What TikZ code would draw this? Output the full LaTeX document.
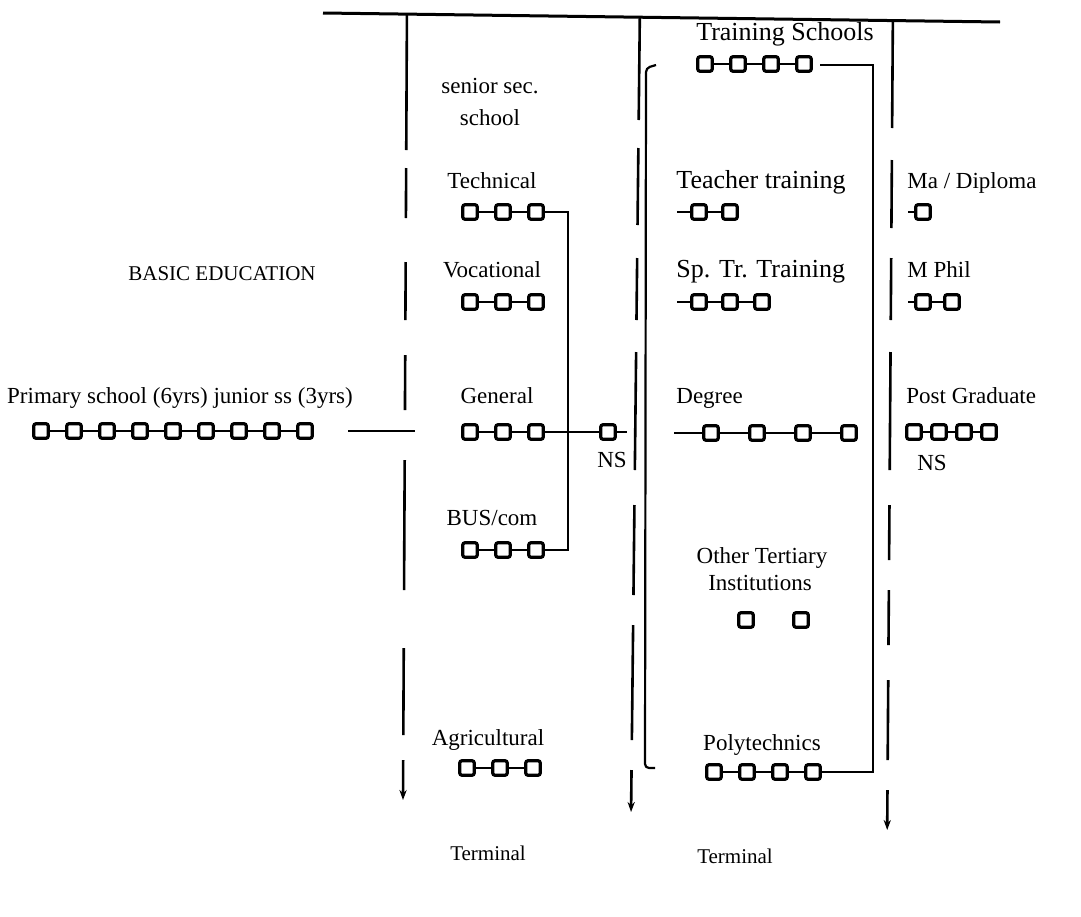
\documentclass[tikz,border=0pt]{standalone}
\usepackage{fontspec}
\setmainfont{Liberation Serif}
\usetikzlibrary{arrows.meta}
\begin{document}
\begin{tikzpicture}[x=0.5pt,y=-0.5pt,
  bx/.style={draw,line width=1.6pt,rounded corners=1.2pt,minimum size=7.3pt,inner sep=0pt},
  lk/.style={line width=0.8pt},
  lk2/.style={line width=1pt},
  rail/.style={line width=1.3pt},
  frame/.style={line width=1.1pt},
  lbl/.style={font=\fontsize{11.5}{14}\selectfont,inner sep=0pt,text height=8pt,text depth=2.5pt},
  big/.style={font=\fontsize{13}{15}\selectfont},
  sml/.style={font=\fontsize{10.5}{13}\selectfont},
  arr/.style={rail,-{Stealth[length=5pt,width=3.6pt]}}
]
\useasboundingbox (0,0) rectangle (1081,916);
% top rule
\coordinate (topL) at (323,13);
\coordinate (topR) at (1000,22);
\draw[line width=1.5pt] (topL) -- (topR);

% rails (dashed vertical dividers)
\foreach \a/\b in {14/150,168/218,262/320,355/410,460/590,648/735}
  \draw[rail] ({407-0.005*\a},\a) -- ({407-0.005*\b},\b);
\draw[arr] ({407-0.005*760},760) -- ({407-0.005*800},800);
\foreach \a/\b in {17/120,148/225,258/320,352/470,505/595,625/740}
  \draw[rail] ({640-0.011*\a},\a) -- ({640-0.011*\b},\b);
\draw[arr] ({640-0.011*770},770) -- ({640-0.011*812},812);
\foreach \a/\b in {20/128,160/228,258/320,352/470,505/560,590/645,680/760}
  \draw[rail] ({893-0.007*\a},\a) -- ({893-0.007*\b},\b);
\draw[arr] ({893-0.007*790},790) -- ({893-0.007*830},830);

% basic education
\node[lbl,sml] (basic) at (222,275) {BASIC EDUCATION};
\node[lbl] (prim) at (180,398) {Primary school (6yrs) junior ss (3yrs)};
\foreach \i in {0,...,8} \node[bx] (pr\i) at ({41+33*\i},431) {};
\foreach \i in {0,...,7}{\pgfmathtruncatemacro\j{\i+1}\draw[lk] (pr\i) -- (pr\j);}
\coordinate (hl1) at (348,431);
\coordinate (hl2) at (415,431);
\draw[lk2] (hl1) -- (hl2);

% senior secondary column
\node[lbl] (ss1) at (490,88) {senior sec.};
\node[lbl] (ss2) at (490,120) {school};
\node[lbl] (tech) at (492,183) {Technical};
\node[lbl] (voc) at (492,272) {Vocational};
\node[lbl] (gen) at (497,398) {General};
\node[lbl] (bus) at (492,520) {BUS/com};
\node[lbl] (agr) at (488,740) {Agricultural};
\node[lbl,sml] (term1) at (488,855) {Terminal};
\foreach \r/\yy in {te/212,vo/302,ge/432,bu/550}{
  \foreach \i/\xx in {1/470,2/503,3/536} \node[bx] (\r\i) at (\xx,\yy) {};
  \draw[lk] (\r1) -- (\r2) (\r2) -- (\r3);
}
\foreach \i/\xx in {1/467,2/500,3/533} \node[bx] (ag\i) at (\xx,768) {};
\draw[lk] (ag1) -- (ag2) (ag2) -- (ag3);
\coordinate (jt) at (568,212);
\coordinate (jb) at (568,550);
\draw[lk2] (te3) -- (jt) -- (jb) -- (bu3);
\node[bx] (ns) at (608,432) {};
\coordinate (nsT) at (627,432);
\draw[lk2] (ge3) -- (ns);
\draw[lk] (ns) -- (nsT);
\node[lbl] (nsl) at (612,462) {NS};

% tertiary column
\node[lbl,big] (trs) at (785,35) {Training Schools};
\foreach \i/\xx in {1/705,2/738,3/771,4/804} \node[bx] (ts\i) at (\xx,64) {};
\draw[lk] (ts1) -- (ts2) (ts2) -- (ts3) (ts3) -- (ts4);
\node[lbl] (pol) at (762,745) {Polytechnics};
\foreach \i/\xx in {1/714,2/747,3/780,4/813} \node[bx] (po\i) at (\xx,772) {};
\draw[lk] (po1) -- (po2) (po2) -- (po3) (po3) -- (po4);
\coordinate (fs) at (820,65);
\coordinate (fc1) at (873,65);
\coordinate (fc2) at (873,772);
\draw[frame] (fs) -- (fc1) -- (fc2) -- (po4);
\coordinate (bk1) at (656,65);
\coordinate (bk2) at (646,68);
\coordinate (bk3) at (645,768);
\coordinate (bk4) at (655,768);
\draw[frame,rounded corners=2pt] (bk1) -- (bk2) -- (bk3) -- (bk4);

\node[lbl,big,anchor=west] (tt) at (676,183) {Teacher training};
\coordinate (ttd) at (677,212);
\foreach \i/\xx in {1/699,2/730} \node[bx] (tt\i) at (\xx,212) {};
\draw[lk] (ttd) -- (tt1) (tt1) -- (tt2);
\node[lbl,big,anchor=west] (sp) at (676,272) {Sp. Tr. Training};
\coordinate (spd) at (677,302);
\foreach \i/\xx in {1/699,2/730,3/762} \node[bx] (sp\i) at (\xx,302) {};
\draw[lk] (spd) -- (sp1) (sp1) -- (sp2) (sp2) -- (sp3);
\node[lbl,anchor=west] (deg) at (676,398) {Degree};
\coordinate (dgd) at (674,433);
\foreach \i/\xx in {1/711,2/757,3/803,4/849} \node[bx] (dg\i) at (\xx,433) {};
\draw[lk2] (dgd) -- (dg1) (dg1) -- (dg2) (dg2) -- (dg3) (dg3) -- (dg4);
\node[lbl] (ot1) at (762,558) {Other Tertiary};
\node[lbl] (ot2) at (760,585) {Institutions};
\node[bx] (ob1) at (746,620) {};
\node[bx] (ob2) at (801,620) {};
\node[lbl,sml] (term2) at (735,858) {Terminal};

% postgraduate column
\node[lbl,anchor=west] (ma) at (907,183) {Ma / Diploma};
\coordinate (mad) at (908,212);
\node[bx] (ma1) at (923,212) {};
\draw[lk] (mad) -- (ma1);
\node[lbl,anchor=west] (mp) at (907,272) {M Phil};
\coordinate (mpd) at (908,302);
\node[bx] (mp1) at (923,302) {};
\node[bx] (mp2) at (952,302) {};
\draw[lk] (mpd) -- (mp1) (mp1) -- (mp2);
\node[lbl,anchor=west] (pg) at (906,398) {Post Graduate};
\foreach \i/\xx in {1/914,2/939,3/964,4/989} \node[bx] (pg\i) at (\xx,432) {};
\draw[lk] (pg1) -- (pg2) (pg2) -- (pg3) (pg3) -- (pg4);
\node[lbl] (ns2) at (932,465) {NS};
\end{tikzpicture}
\end{document}
